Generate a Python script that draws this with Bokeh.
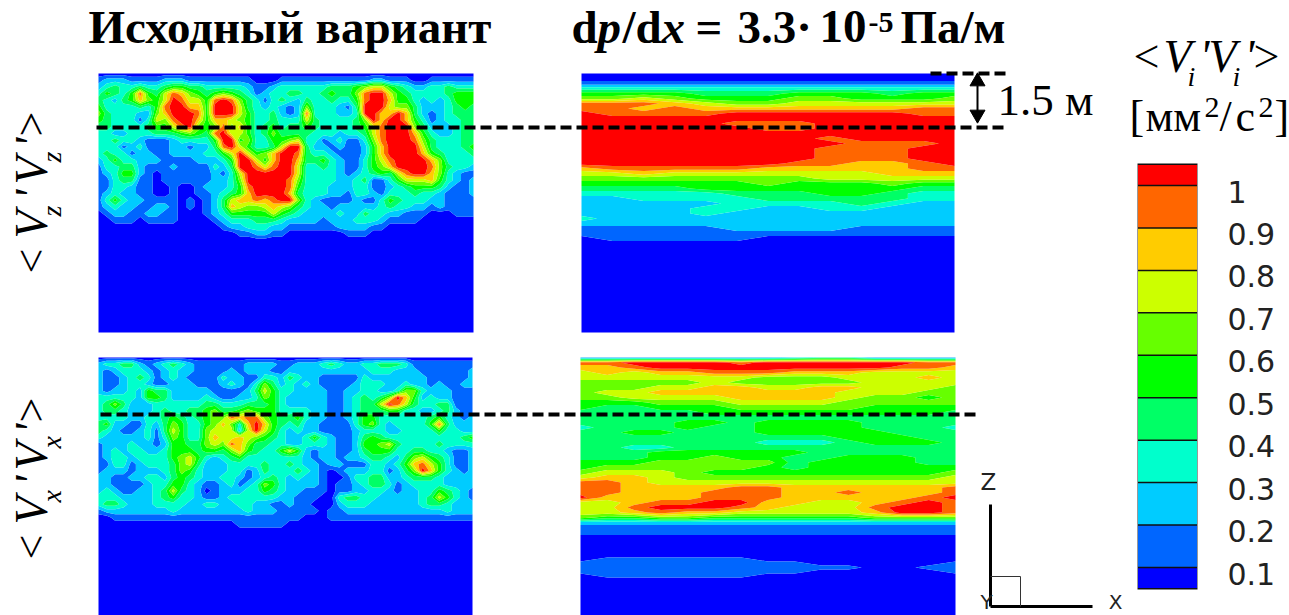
import numpy as np
from bokeh.plotting import figure
from bokeh.models import Range1d
from bokeh.core.properties import value
from bokeh.embed import file_html
from bokeh.resources import INLINE

LEVELS = [0.1, 0.2, 0.3, 0.4, 0.5, 0.6, 0.7, 0.8, 0.9, 1.0]
LEVEL_LABELS = ["0.1", "0.2", "0.3", "0.4", "0.5", "0.6", "0.7", "0.8", "0.9", "1"]
PALETTE = ["#0000ff", "#0066ff", "#00ccff", "#00ffcc", "#00ff66", "#00ff00",
           "#66ff00", "#ccff00", "#ffcc00", "#ff6600", "#ff0000"]

# Band index (0 = below 0.1 ... 10 = above 1)
VZ_BASE = [
 [0]*46,
 [1,2,2,2,1, 1,1,1,2,2, 2,1,1,1,1, 1,1,1,1,0, 0,0,1,1,1, 1,1,1,1,1, 1,1,1,2,2, 1,1,1,0,0, 1,1,1,1,1, 1],
 [2,3,4,3,3, 4,3,3,4,5, 5,4,4,3,3, 3,3,3,2,1, 1,2,3,3,3, 3,3,3,4,4, 4,5,6,7,7, 5,4,3,2,2, 3,3,4,3,3, 3],
 [3,5,4,3,5, 9,5,4,7,9, 8,6,5,4,5, 6,5,4,3,1, 2,3,3,4,4, 3,3,4,5,4, 4,6,9,10,10, 7,5,4,3,3, 3,3,4,5,5, 5],
 [4,3,2,4,5, 8,6,5,7,10, 9,7,7,5,9, 10,9,6,4,3, 1,3,4,3,2, 4,3,3,4,3, 3,5,9,10,10, 8,5,5,3,2, 3,2,3,5,5, 5],
 [5,3,3,3,3, 4,3,5,9,10, 10,8,8,5,10, 10,10,7,4,3, 2,3,2,1,2, 6,3,3,3,2, 1,4,10,10,10, 7,6,6,4,2, 2,2,3,4,5, 4],
 [6,4,3,3,3, 2,2,6,8,10, 10,10,9,5,10, 10,10,7,5,3, 3,4,2,1,2, 9,3,3,3,2, 2,3,10,10,8, 8,10,8,4,2, 1,2,3,4,4, 4],
 [5,4,3,3,3, 1,3,7,6,9, 10,10,8,5,8, 8,7,6,5,3, 3,4,3,3,3, 7,4,3,3,3, 3,4,6,10,8, 10,10,8,5,3, 1,2,3,3,4, 4],
 [4,4,3,3,3, 3,4,5,5,7, 9,10,6,5,6, 9,6,8,5,3, 4,5,3,4,4, 5,4,3,3,3, 3,4,5,7,9, 10,10,10,6,4, 2,2,2,3,4, 4],
 [3,3,2,2,3, 3,3,4,4,4, 5,6,5,4,9, 10,7,7,5,3, 4,6,4,4,4, 4,3,3,3,2, 3,3,4,7,9, 10,10,10,8,5, 3,2,2,3,4, 4],
 [3,3,4,3,3, 2,1,1,1,2, 3,3,3,3,5, 10,10,5,6,3, 3,5,5,6,7, 3,3,1,2,3, 1,1,3,6,9, 10,10,10,9,6, 4,3,3,3,4, 4],
 [3,3,3,1,2, 3,1,1,1,2, 2,1,2,2,4, 9,10,7,5,3, 3,4,7,10,10, 4,2,2,1,2, 1,1,2,5,8, 10,10,10,10,7, 4,3,3,3,4, 5],
 [3,4,3,3,1, 2,2,1,1,2, 2,2,2,3,3, 5,7,10,7,5, 6,8,10,10,9, 4,3,3,2,1, 1,1,2,5,8, 10,10,10,10,8, 5,4,3,3,3, 4],
 [2,3,5,3,3, 2,2,2,1,1, 1,1,2,2,2, 3,5,10,10,7, 5,8,10,10,8, 4,4,5,3,2, 1,1,3,5,7, 9,10,10,10,10, 8,6,3,3,3, 3],
 [1,3,3,4,4, 2,1,1,1,2, 1,1,1,1,3, 2,4,10,10,9, 7,9,10,10,7, 3,3,4,3,2, 1,1,3,5,6, 8,10,10,10,10, 9,6,4,3,3, 2],
 [1,2,3,5,5, 2,1,0,1,1, 1,1,1,1,2, 1,3,7,10,10, 10,10,10,10,7, 3,3,3,3,2, 1,2,3,4,5, 4,7,9,10,10, 8,6,3,2,1, 1],
 [1,1,3,4,4, 1,1,0,1,1, 1,1,1,1,2, 2,3,6,10,10, 10,10,10,9,6, 3,3,3,3,2, 2,3,4,1,1, 3,5,7,7,7, 8,5,3,2,1, 2],
 [1,1,3,3,2, 1,1,0,0,1, 0,0,1,2,2, 2,3,5,9,10, 10,10,10,9,5, 3,3,3,2,2, 2,3,3,1,1, 2,3,4,5,5, 5,4,2,1,1, 2],
 [1,2,3,2,2, 1,1,0,0,1, 0,0,1,1,2, 3,4,5,8,10, 10,10,10,8,4, 3,3,3,2,2, 1,3,3,2,1, 3,3,3,4,3, 3,2,1,1,1, 2],
 [1,3,5,3,2, 2,1,1,1,1, 0,1,0,1,2, 4,7,8,8,9, 8,9,10,10,6, 3,2,1,1,1, 1,2,1,1,3, 5,4,3,3,3, 2,2,1,1,1, 1],
 [1,2,3,2,2, 1,1,2,2,1, 0,1,0,1,2, 4,8,7,6,6, 7,8,7,6,4, 3,2,2,1,2, 2,2,2,2,3, 4,3,3,2,2, 1,2,1,1,1, 1],
 [0,1,2,2,1, 1,2,2,1,1, 0,0,0,1,2, 3,5,5,5,5, 5,7,5,4,3, 2,2,2,2,3, 2,2,4,3,3, 2,2,1,1,1, 0,0,0,1,1, 1],
 [0,0,1,1,1, 0,1,1,1,1, 0,0,0,0,1, 2,3,3,3,4, 4,4,3,2,2, 2,2,1,2,2, 2,3,3,3,2, 1,1,1,1,0, 0,0,0,0,0, 0],
 [0,0,0,0,0, 0,0,0,0,0, 0,0,0,0,0, 1,2,2,3,3, 3,2,2,1,1, 1,1,1,1,2, 2,2,2,1,1, 0,0,0,0,0, 0,0,0,0,0, 0],
 [0,0,0,0,0, 0,0,0,0,0, 0,0,0,0,0, 0,0,1,1,2, 2,1,1,0,0, 0,0,0,0,0, 1,1,1,0,0, 0,0,0,0,0, 0,0,0,0,0, 0],
 [0]*46,
 [0]*46,
]
VX_BASE = [
 [0]*46,
 [2,3,3,4,4, 2,1,2,3,4, 3,2,1,1,1, 1,1,1,2,2, 2,2,1,1,2, 2,2,3,4,3, 2,2,3,3,4, 4,4,3,1,1, 1,1,1,1,1, 1],
 [2,1,2,3,3, 3,2,1,2,3, 2,2,1,1,1, 1,2,1,2,2, 2,1,1,2,2, 2,2,2,2,2, 2,2,2,3,3, 3,2,2,2,1, 1,1,1,1,1, 2],
 [2,1,1,2,3, 4,3,1,2,3, 2,1,1,1,1, 3,2,2,1,1, 3,3,2,4,3, 2,2,1,1,1, 1,1,3,2,2, 2,2,2,2,2, 1,1,1,1,1, 2],
 [2,1,1,2,3, 3,2,1,1,2, 2,2,1,1,1, 2,3,2,1,3, 6,4,2,3,2, 3,2,1,1,1, 1,2,3,3,3, 2,2,3,2,2, 1,2,1,1,2, 2],
 [2,1,2,2,3, 2,5,4,4,2, 2,2,2,2,1, 1,1,1,2,4, 7,5,3,3,2, 2,2,2,1,1, 2,2,3,3,2, 2,3,6,6,3, 2,2,2,1,1, 1],
 [3,3,3,3,3, 2,5,5,4,2, 2,2,2,3,2, 1,1,2,2,3, 6,5,3,2,2, 2,2,2,1,1, 2,3,4,3,4, 6,10,8,5,2, 3,2,2,1,1, 1],
 [3,4,6,4,2, 2,2,3,3,3, 3,3,3,4,4, 3,3,3,4,4, 4,5,3,2,2, 2,2,2,1,1, 2,3,4,4,7, 10,9,7,4,3, 3,4,4,1,1, 1],
 [3,4,4,3,2, 2,2,3,4,3, 3,4,4,5,6, 4,4,5,6,5, 5,5,3,3,3, 3,2,2,1,1, 2,3,4,4,4, 5,5,3,3,2, 2,3,4,2,1, 1],
 [3,3,3,3,2, 2,3,3,4,5, 4,3,4,5,6, 6,9,8,9,9, 6,5,4,4,5, 3,2,2,1,1, 2,3,5,5,3, 3,3,3,3,3, 4,5,3,2,1, 2],
 [4,5,2,2,1, 1,3,2,4,6, 5,3,3,5,6, 8,6,3,8,10, 8,5,4,3,4, 2,2,1,1,1, 1,3,5,6,3, 2,3,3,3,3, 5,9,4,2,2, 2],
 [4,3,2,1,1, 2,3,1,4,7, 5,3,3,6,7, 7,7,2,7,10, 7,5,3,2,3, 2,2,1,1,1, 1,2,3,3,3, 2,2,3,3,3, 3,5,3,3,2, 2],
 [3,2,2,2,2, 2,3,1,3,6, 5,3,3,6,8, 7,7,8,7,6, 5,4,3,2,2, 3,5,3,2,1, 1,2,4,5,4, 3,3,3,3,3, 3,3,3,3,4, 5],
 [1,2,2,2,3, 2,2,1,2,5, 5,4,4,6,7, 6,9,8,6,4, 4,3,3,2,2, 3,3,3,2,1, 1,2,5,5,6, 7,4,3,3,3, 3,4,3,3,3, 3],
 [1,2,3,2,3, 3,2,2,3,5, 5,5,4,5,5, 4,6,8,5,4, 3,3,5,7,5, 2,1,2,2,1, 1,2,4,5,5, 5,3,3,4,4, 3,3,2,1,1, 2],
 [1,2,3,3,2, 3,3,3,3,5, 6,7,5,3,2, 3,4,5,3,3, 3,3,3,3,3, 2,1,2,2,1, 2,2,3,4,4, 3,2,4,6,7, 5,4,3,1,1, 2],
 [1,1,3,3,1, 2,3,3,3,4, 6,7,4,2,2, 2,3,3,3,3, 4,3,3,4,3, 2,2,1,2,2, 1,1,1,3,3, 2,3,5,8,9, 7,5,3,1,1, 2],
 [1,2,2,2,1, 2,2,2,3,4, 6,5,3,2,2, 2,3,3,1,2, 4,3,3,3,4, 3,2,1,0,1, 2,2,2,3,3, 1,2,4,6,10, 8,5,3,2,1, 2],
 [2,2,1,1,2, 2,3,3,2,4, 5,4,3,2,2, 3,3,2,1,2, 3,4,3,2,3, 2,2,1,0,0, 1,3,3,4,4, 2,2,3,4,4, 4,3,2,2,2, 2],
 [2,2,1,1,1, 1,2,3,3,5, 5,3,2,1,1, 2,3,1,2,3, 6,5,3,2,2, 2,2,1,0,1, 1,2,3,4,4, 3,1,2,3,3, 3,3,2,2,2, 2],
 [2,3,2,1,1, 2,2,3,4,7, 4,3,2,0,1, 2,2,2,3,3, 5,4,3,2,2, 1,1,1,0,1, 1,2,2,3,3, 2,1,2,2,3, 3,5,4,3,2, 1],
 [3,3,3,2,2, 2,2,3,4,5, 3,3,2,1,1, 2,3,3,3,3, 3,3,2,2,1, 1,1,0,0,3, 4,4,3,3,2, 2,2,2,2,3, 4,7,5,3,2, 1],
 [3,4,4,3,2, 2,2,3,3,3, 3,2,2,3,3, 2,2,3,3,2, 2,1,1,2,1, 1,0,0,0,2, 3,3,3,2,2, 2,2,2,2,3, 4,4,3,2,2, 2],
 [1,2,2,2,2, 2,2,2,2,3, 2,2,2,2,2, 2,2,2,3,2, 2,2,1,1,1, 1,1,0,1,1, 2,2,2,2,2, 2,2,2,2,2, 2,2,3,2,2, 2],
 [0,0,1,1,1, 1,1,1,1,1, 1,1,1,1,1, 1,1,1,1,1, 1,1,1,1,1, 0,0,0,1,1, 1,1,1,1,1, 1,1,1,1,1, 1,1,1,1,1, 1],
 [0,0,0,0,0, 0,0,0,0,0, 0,0,0,0,0, 0,0,1,1,1, 1,1,1,0,0, 0,0,0,0,0, 0,0,0,0,0, 0,0,0,0,0, 0,0,0,0,0, 0],
 [0]*46,
 [0]*46,
]
VZ_GRAD = [
 [0]*13,
 [0]*13,
 [1]*13,
 [3]*13,
 [5,5,5,5,4,4,4,5,5,5,4,5,5],
 [6,6,7,6,5,5,5,6,6,5,5,5,6],
 [9,9,9,8,7,6,6,7,7,7,7,7,7],
 [9,9,8,9,8,8,8,8,8,8,8,9,9],
 [10,9,9,9,9,10,10,10,10,10,10,9,9],
 [10]*13,
 [10,10,10,10,10,9,9,9,10,10,10,10,10],
 [10,10,10,10,10,10,9,9,10,10,10,10,10],
 [10]*13,
 [10,10,10,10,10,10,10,10,9,10,10,10,10],
 [10,10,10,10,10,10,10,10,10,9,9,9,10],
 [10,10,10,10,10,10,10,10,9,9,9,10,10],
 [10,10,10,10,10,10,10,10,9,9,9,10,10],
 [10,10,10,10,10,10,10,10,9,9,9,10,10],
 [10,10,10,10,10,10,10,9,9,8,8,9,10],
 [8,9,9,9,9,9,8,8,8,8,8,9,9],
 [7,7,8,7,7,7,7,7,7,7,8,8,8],
 [6,6,6,6,6,6,6,6,7,7,7,7,7],
 [5,5,5,5,5,5,6,5,5,5,6,5,5],
 [4,4,4,4,5,5,5,5,5,5,5,4,4],
 [3,3,3,3,3,4,4,4,5,5,4,3,3],
 [2,2,3,3,3,3,4,4,4,4,4,3,3],
 [2,2,2,2,2,3,3,3,3,4,3,2,2],
 [2,2,2,2,3,3,2,2,3,3,2,2,2],
 [2,2,2,2,3,2,2,2,2,2,2,2,2],
 [3,2,2,2,2,2,2,2,2,2,2,2,2],
 [2]*13,
 [1,1,1,1,1,2,2,2,2,1,1,1,1],
 [1]*13,
 [0,1,1,1,1,1,0,0,0,0,0,0,0],
 [0]*13,
 [0]*13,
]
VX_GRAD = [
 [1,1,1,1,1,1,1,1,2,3,3,1,1,1,1],
 [9,9,10,10,10,10,9,10,10,10,10,10,10,9,9],
 [8,8,9,10,10,10,10,10,10,10,10,10,9,9,8],
 [7,8,7,8,8,9,9,9,8,8,8,7,7,7,7],
 [7,7,7,7,7,7,7,6,6,6,7,7,7,8,7],
 [6,6,6,6,6,7,6,6,6,6,6,7,7,7,7],
 [6,6,6,7,7,8,8,7,7,8,8,7,7,7,6],
 [6,7,7,8,8,8,8,8,8,8,7,7,7,6,6],
 [6,6,7,7,7,7,8,8,8,8,7,6,6,5,6],
 [5,5,5,6,6,6,7,7,7,7,6,6,6,6,6],
 [5,4,4,5,5,5,6,6,6,6,6,5,5,5,5],
 [4,4,4,4,4,5,5,5,5,5,5,5,5,5,4],
 [4]*15,
 [4,4,4,4,5,5,4,5,5,5,5,4,4,4,4],
 [3,4,4,4,5,4,4,5,5,5,5,4,4,4,3],
 [4,4,5,5,4,4,4,5,5,5,5,5,4,4,4],
 [4,4,4,4,4,4,4,4,4,4,5,5,5,4,4],
 [4,4,4,4,4,4,4,3,3,3,4,5,5,5,4],
 [4,4,3,3,4,4,4,4,4,4,4,4,4,4,4],
 [4,4,4,5,5,5,5,5,5,4,4,4,4,4,4],
 [4,4,4,5,5,6,5,5,4,4,5,5,5,4,4],
 [5,5,5,6,6,6,6,6,4,5,5,5,5,4,4],
 [5,6,6,6,6,6,6,5,4,5,5,5,5,5,5],
 [6,7,7,7,6,5,5,5,5,5,5,5,5,5,6],
 [7,8,8,7,6,6,6,6,6,6,6,6,6,6,7],
 [9,9,8,7,7,7,7,7,7,7,7,7,7,7,7],
 [9,9,8,8,8,8,9,9,8,8,8,8,8,8,9],
 [9,9,8,8,8,9,9,9,8,8,9,8,8,8,9],
 [10,8,8,8,8,9,9,9,8,8,8,8,8,9,10],
 [7,7,8,9,9,10,10,8,8,7,7,8,9,10,9],
 [7,7,9,10,10,10,9,8,7,7,7,9,10,10,9],
 [7,7,8,9,8,8,7,7,7,7,7,8,10,10,9],
 [6,5,5,6,6,5,5,5,5,5,5,6,6,6,6],
 [2]*15,
 [1]*15,
 [1]*15,
 [0]*15,
]
VX_GRAD_DEEP = [
 [0]*15,
 [0,1,1,1,1,1,1,0,0,0,0,0,0,0,0],
 [1,1,1,1,1,1,1,1,1,0,0,0,0,0,1],
 [1,1,1,1,1,1,1,1,1,1,1,0,0,1,1],
 [1,1,1,1,1,1,1,1,1,0,0,0,0,0,1],
 [0,1,1,1,1,1,1,0,0,0,0,0,0,0,0],
 [0]*15,
 [0]*15,
]

W, H = 1289, 615
p = figure(width=W, height=H, output_backend="svg", toolbar_location=None,
           x_range=Range1d(0, W), y_range=Range1d(H, 0),
           min_border=0, outline_line_color=None)
p.axis.visible = False
p.grid.visible = False

bounds = [-0.2] + LEVELS + [1.3]

def band_values(rows):
    return (np.array(rows, dtype=float) + 0.5) / 10.0

def draw(rows, x0, x1, ys):
    z = band_values(rows)
    xs = np.linspace(x0, x1, z.shape[1])
    p.contour(xs, np.array(ys, dtype=float), z, levels=bounds, fill_color=PALETTE, line_color=None)

draw(VZ_BASE, 98, 473, [73 + 20 / 3 * i for i in range(26)] + [332])
draw(VX_BASE, 98, 472, [357 + 20 / 3 * i for i in range(27)] + [615])
draw(VZ_GRAD, 581, 954, [73 + 5 * i for i in range(35)] + [332])
draw(VX_GRAD + VX_GRAD_DEEP, 580, 955,
     [357 + 5 * i for i in range(37)] + [555, 559, 563, 567, 571, 575, 579, 615])

# Colour bar
def bar_y(v):
    return 567 - (v - 0.1) * 424.4

edges = [0.05] + LEVELS + [1.05]
p.quad(left=1137, right=1197, top=[bar_y(e) for e in edges[1:]], bottom=[bar_y(e) for e in edges[:-1]],
       fill_color=PALETTE, line_color=None)
p.segment(x0=1137, x1=1197, y0=[bar_y(e) for e in edges], y1=[bar_y(e) for e in edges],
          line_color="#111111", line_width=1.5)
p.segment(x0=[1137, 1197], x1=[1137, 1197], y0=bar_y(0.05), y1=bar_y(1.05), line_color="#999999", line_width=1)
p.text(x=1227, y=[bar_y(v) + 6 for v in LEVELS], text=LEVEL_LABELS, text_font=value("DejaVu Sans"),
       text_font_size="30px", text_color="#222222", text_baseline="middle", text_align="left")

# Dashed reference lines
for xa, xb, yy in [(96, 1003, 127), (930, 1007, 73), (100, 976, 414)]:
    p.line([xa, xb], [yy, yy], line_color="black", line_width=4, line_dash="11 5")

# 1.5 m double arrow
p.line([977, 977], [85, 112], line_color="black", line_width=2)
p.scatter([977], [81], marker="triangle", size=15, color="black")
p.scatter([977], [114], marker="inverted_triangle", size=15, color="black")

SERIF = value("Liberation Serif")
SHIFT = 0.38
def t(x, y, s, size, style="normal", angle=0, font=SERIF, align="left", color="black"):
    # the renderer seats "alphabetic" text low; pull it back onto the intended baseline
    if angle:
        x = x - SHIFT * size
    else:
        y = y - SHIFT * size
    p.text(x=[x], y=[y], text=[s], text_font=font, text_font_size=f"{size}px",
           text_font_style=style, angle=angle, text_align=align,
           text_baseline="alphabetic", text_color=color)

# Titles
t(88, 44, "Исходный вариант", 47, "bold")
t(571, 44, "d", 47, "bold")
t(597, 44, "p", 47, "bold italic")
t(622, 44, "/d", 47, "bold")
t(661, 44, "x", 47, "bold italic")
t(695, 44, "=", 47, "bold")
t(737, 44, "3.3·", 47, "bold")
t(819, 44, "10", 47, "bold")
t(868, 33, "-5", 30, "bold")
t(900, 44, "Па/м", 47, "bold")

# Row labels (rotated)
A = np.pi / 2
for off, sub in [(0, "z"), (286, "x")]:
    t(48, 273 + off, "<", 44, angle=A)
    t(48, 238 + off, "V", 46, "italic", angle=A)
    t(62, 216 + off, sub, 28, "italic", angle=A)
    t(48, 199 + off, "'", 46, "italic", angle=A)
    t(48, 184 + off, "V", 46, "italic", angle=A)
    t(62, 162 + off, sub, 28, "italic", angle=A)
    t(48, 147 + off, "'", 46, "italic", angle=A)
    t(48, 136 + off, ">", 44, angle=A)

# Colour bar title
t(1133, 73, "<", 46)
t(1163, 73, "V", 46, "italic")
t(1187, 87, "i", 28, "italic")
t(1199, 73, "'", 46, "italic")
t(1208, 73, "V", 46, "italic")
t(1232, 87, "i", 28, "italic")
t(1244, 73, "'", 46, "italic")
t(1253, 73, ">", 46)
t(1129, 133, "[", 44)
t(1145, 133, "мм", 44)
t(1204, 118, "2", 30)
t(1219, 133, "/", 44)
t(1235, 133, "с", 44)
t(1258, 118, "2", 30)
t(1274, 133, "]", 44)

t(997, 117, "1.5 м", 45)

# Axis triad
p.line([990, 990], [504, 606], line_color="black", line_width=3)
p.line([990, 1092], [606, 606], line_color="black", line_width=3)
p.line([990, 1020, 1020], [576, 576, 606], line_color="#333333", line_width=1)
SANS = value("DejaVu Sans")
t(988, 490, "Z", 23, font=SANS, align="center", color="#222222")
t(986, 609, "Y", 20, font=SANS, align="center", color="#222222")
t(1115, 609, "X", 20, font=SANS, align="center", color="#222222")

open("out.html", "w").write(file_html(p, INLINE))
